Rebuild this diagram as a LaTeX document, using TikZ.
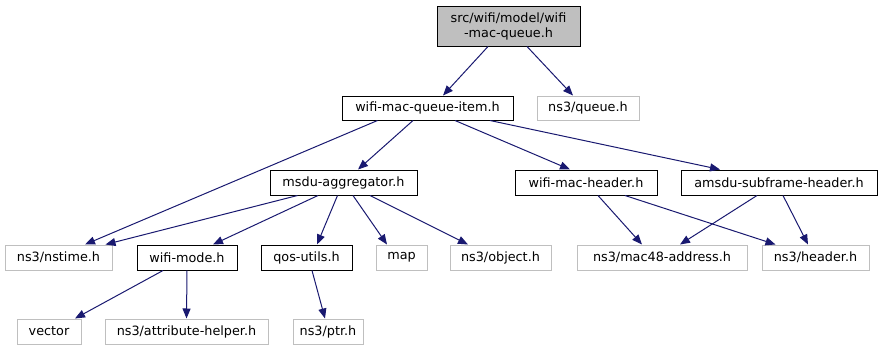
\documentclass[tikz,border=0pt]{standalone}
\usepackage{fontspec}
\setmainfont{DejaVu Sans}
\usetikzlibrary{arrows.meta}
\definecolor{edgeblue}{HTML}{191970}
\definecolor{extgray}{HTML}{BFBFBF}
\begin{document}
\begin{tikzpicture}[x=1pt,y=-1pt,
  every node/.style={font=\fontsize{12.8}{15}\selectfont, inner sep=0pt, align=center},
  file/.style={draw=black, line width=1pt, minimum height=25pt},
  ext/.style={draw=extgray, line width=1pt, minimum height=25pt},
  top/.style={draw=black, fill=extgray, line width=1pt, minimum height=40pt},
  dep/.style={draw=edgeblue, line width=1pt, -{Triangle[length=10pt,width=8pt]}}]
\useasboundingbox (0,0) rectangle (881,351);

% header nodes
\node[top, minimum width=143pt] (root) at (508.5,26) {src/wifi/model/wifi\\-mac-queue.h};
\node[file, minimum width=171pt, minimum height=24pt] (wmqi) at (427.5,108) {wifi-mac-queue-item.h};
\node[ext, minimum width=102pt, minimum height=24pt] (queue) at (588,108) {ns3/queue.h};
\node[file, minimum width=147pt] (msdu) at (343.5,182.5) {msdu-aggregator.h};
\node[file, minimum width=142pt] (wmh) at (586,182.5) {wifi-mac-header.h};
\node[file, minimum width=196pt] (amsdu) at (779,182.5) {amsdu-subframe-header.h};
\node[ext, minimum width=107pt] (nstime) at (58.5,257.5) {ns3/nstime.h};
\node[file, minimum width=100pt] (wmode) at (187,257.5) {wifi-mode.h};
\node[file, minimum width=91pt] (qos) at (306.5,257.5) {qos-utils.h};
\node[ext, minimum width=51pt] (map) at (401.5,257.5) {map};
\node[ext, minimum width=101pt] (object) at (500.5,257.5) {ns3/object.h};
\node[ext, minimum width=170pt] (mac48) at (662,257.5) {ns3/mac48-address.h};
\node[ext, minimum width=107pt] (header) at (815.5,257.5) {ns3/header.h};
\node[ext, minimum width=64pt] (vector) at (49,331.5) {vector};
\node[ext, minimum width=163pt] (attr) at (186.5,331.5) {ns3/attribute-helper.h};
\node[ext, minimum width=70pt] (ptr) at (328,331.5) {ns3/ptr.h};

% include edges
\draw[dep] ([xshift=-20.5pt]root.south) -- ([xshift=15.5pt]wmqi.north);
\draw[dep] ([xshift=18.5pt]root.south) -- ([xshift=-15pt]queue.north);
\draw[dep] ([xshift=-50pt]wmqi.south) -- ([xshift=26.5pt]nstime.north);
\draw[dep] ([xshift=-14.5pt]wmqi.south) -- ([xshift=14.5pt]msdu.north);
\draw[dep] ([xshift=27.5pt]wmqi.south) -- ([xshift=-16pt]wmh.north);
\draw[dep] ([xshift=62.5pt]wmqi.south) -- ([xshift=-59pt]amsdu.north);
\draw[dep] ([xshift=-46pt]msdu.south) -- ([xshift=47pt]nstime.north);
\draw[dep] ([xshift=-25.5pt]msdu.south) -- ([xshift=26pt]wmode.north);
\draw[dep] ([xshift=-6pt]msdu.south) -- ([xshift=10.5pt]qos.north);
\draw[dep] ([xshift=9.5pt]msdu.south) -- ([xshift=-14.5pt]map.north);
\draw[dep] ([xshift=26.5pt]msdu.south) -- ([xshift=-32.5pt]object.north);
\draw[dep] ([xshift=12pt]wmh.south) -- ([xshift=-20pt]mac48.north);
\draw[dep] ([xshift=39pt]wmh.south) -- ([xshift=-40pt]header.north);
\draw[dep] ([xshift=-22pt]amsdu.south) -- ([xshift=18pt]mac48.north);
\draw[dep] ([xshift=4pt]amsdu.south) -- ([xshift=-7.5pt]header.north);
\draw[dep] ([xshift=-24pt]wmode.south) -- ([xshift=26pt]vector.north);
\draw[dep] (wmode.south) -- (attr.north);
\draw[dep] ([xshift=5.5pt]qos.south) -- ([xshift=-3pt]ptr.north);
\end{tikzpicture}
\end{document}
